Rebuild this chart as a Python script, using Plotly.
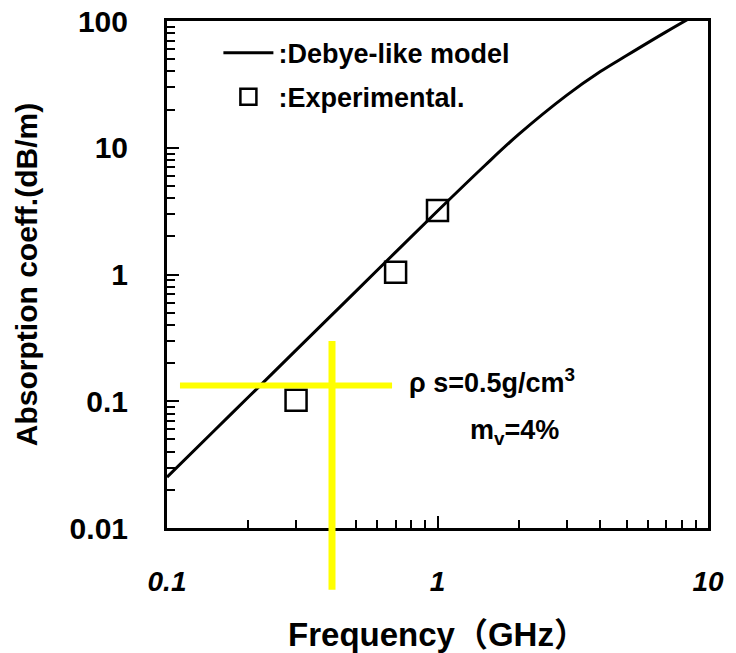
import plotly.graph_objects as go

# Debye-like model curve
model_freq = [0.1, 0.15, 0.2, 0.3, 0.4, 0.5, 0.7, 1.0, 1.5, 2.0, 3.0, 4.0, 5.0, 7.0, 10.0]
model_abs = [0.0252, 0.059, 0.108, 0.253, 0.463, 0.74, 1.5, 3.17, 7.28, 12.8, 25.9, 39.9, 53.4, 82.1, 127.0]

# Experimental points
exp_freq = [0.3, 0.7, 1.0]
exp_abs = [0.102, 1.04, 3.2]

x_ticks = [0.1, 1, 10]
x_ticklabels = ["0.1", "1", "10"]
y_ticks = [0.01, 0.1, 1, 10, 100]
y_ticklabels = ["0.01", "0.1", "1", "10", "100"]
x_minor = [m * d for d in (0.1, 1) for m in range(2, 10)]
y_minor = [m * d for d in (0.01, 0.1, 1, 10) for m in range(2, 10)]

FONT = "Liberation Sans, Noto Sans CJK JP, sans-serif"

fig = go.Figure()
fig.add_trace(go.Scatter(
    x=model_freq, y=model_abs, mode="lines", name=":Debye-like model",
    legendgroup="a",
    line=dict(color="black", width=3, shape="spline", smoothing=1.0),
))
fig.add_trace(go.Scatter(
    x=exp_freq, y=exp_abs, mode="markers", name=":Experimental.",
    legendgroup="b",
    marker=dict(symbol="square-open", size=21, color="black", line=dict(width=2.5)),
))

def axis_common(minor_vals):
    return dict(
        showline=True, linecolor="black", linewidth=3, mirror=True,
        ticks="inside", ticklen=12, tickwidth=2, tickcolor="black",
        showgrid=False, zeroline=False, automargin=False,
        minor=dict(tickvals=minor_vals, ticks="inside", ticklen=8, tickwidth=1.8,
                   tickcolor="black", showgrid=False),
    )

fig.update_xaxes(
    type="log", range=[-1, 1],
    tickvals=x_ticks, ticktext=x_ticklabels,
    tickfont=dict(family=FONT, size=28, color="black", weight="bold", style="italic"),
    ticklabelstandoff=26,
    title=dict(text="Frequency（GHz）", font=dict(family=FONT, size=33, color="black", weight="bold"), standoff=30),
    **axis_common(x_minor),
)
fig.update_yaxes(
    type="log", range=[-2, 2],
    tickvals=y_ticks, ticktext=y_ticklabels,
    tickfont=dict(family=FONT, size=30, color="black", weight="bold"),
    ticklabelstandoff=30,
    title=dict(text="Absorption coeff.(dB/m)",
               font=dict(family=FONT, size=30, color="black", weight="bold"), standoff=24),
    **axis_common(y_minor),
)

# yellow crosshair overlay (paper coordinates)
H_LINE = dict(x0=0.024, x1=0.416, y=0.281)
V_LINE = dict(x=0.305, y0=0.369, y1=-0.122)
fig.add_shape(type="line", xref="paper", yref="paper",
              x0=H_LINE["x0"], x1=H_LINE["x1"], y0=H_LINE["y"], y1=H_LINE["y"],
              line=dict(color="#FFFF00", width=6), layer="above")
fig.add_shape(type="line", xref="paper", yref="paper",
              x0=V_LINE["x"], x1=V_LINE["x"], y0=V_LINE["y0"], y1=V_LINE["y1"],
              line=dict(color="#FFFF00", width=7), layer="above")

fig.add_annotation(xref="paper", yref="paper", x=0.601, y=0.252,
                   text="ρ s=0.5g/cm<sup>3</sup>", showarrow=False,
                   font=dict(family=FONT, size=27, color="black", weight="bold"))
fig.add_annotation(xref="paper", yref="paper", x=0.643, y=0.152,
                   text="m<sub>v</sub>=4%", showarrow=False,
                   font=dict(family=FONT, size=27, color="black", weight="bold"))

fig.update_layout(
    width=736, height=653,
    margin=dict(l=167, r=28, t=21, b=125),
    paper_bgcolor="white", plot_bgcolor="white",
    showlegend=True,
    legend=dict(x=0.095, y=0.985, xanchor="left", yanchor="top",
                bgcolor="rgba(0,0,0,0)", borderwidth=0,
                font=dict(family=FONT, size=27, color="black", weight="bold"),
                itemwidth=50, tracegroupgap=6),
)

fig.write_html("out.html", config={"displayModeBar": False},
               post_script="document.body.style.margin='0';")
